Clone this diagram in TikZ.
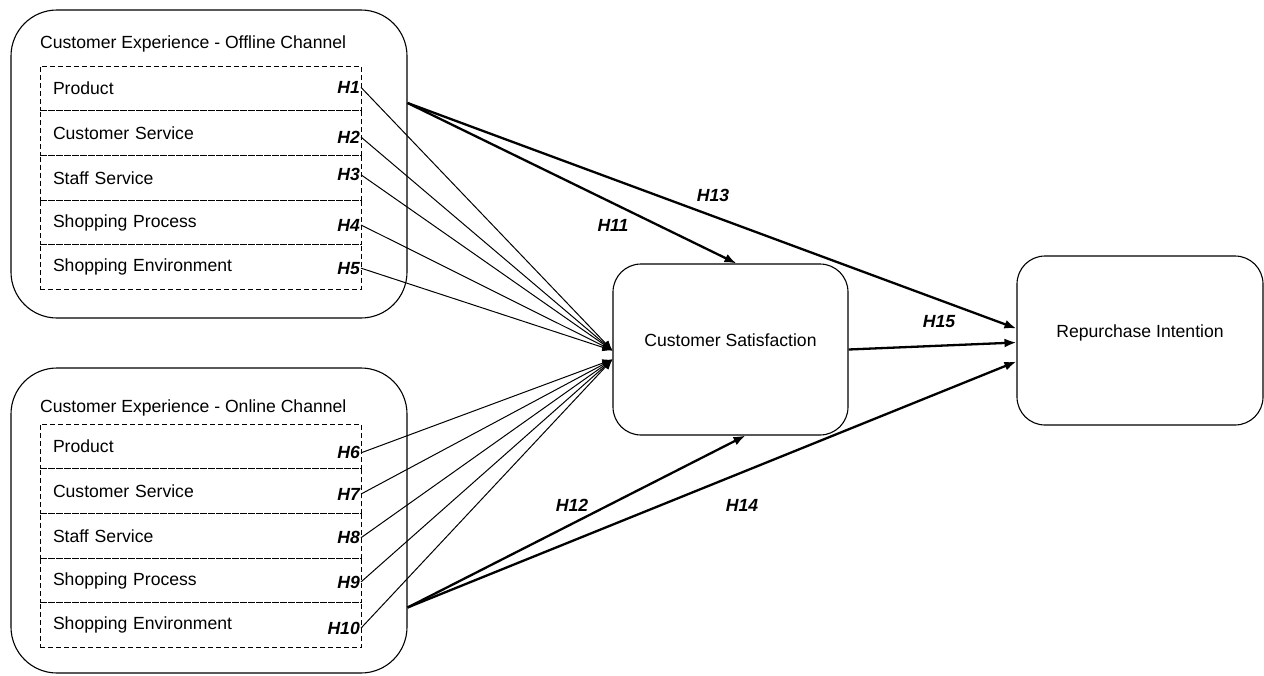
\documentclass[tikz,border=0pt]{standalone}
\usepackage{fontspec}
\setmainfont{Liberation Sans}
\usetikzlibrary{arrows.meta, positioning}

\begin{document}
\begin{tikzpicture}[
    x=1pt, y=-1pt,
    font=\fontsize{17.6}{20}\selectfont,
    channel/.style={rectangle, draw, rounded corners=46pt, minimum width=396pt, line width=1.1pt},
    rowbox/.style={rectangle, draw, dash pattern=on 5pt off 3pt, line width=1pt, minimum width=321pt, text width=295pt, inner xsep=13pt, inner ysep=0pt, minimum height=44.7pt, align=left, outer sep=0pt},
    hyp/.style={font=\fontsize{17.6}{20}\selectfont\bfseries\itshape, inner sep=1pt},
    bigbox/.style={rectangle, draw, rounded corners=28pt, align=center, text height=12pt, text depth=19pt, line width=1.1pt},
    link/.style={-{Latex[length=10pt, width=8pt]}, line width=1pt},
    arrow/.style={-{Latex[length=12pt, width=9pt]}, line width=2.3pt}
]
\useasboundingbox (0,0) rectangle (1264,675);

% offline channel
\node[channel, minimum height=308pt] (offbox) at (209,164) {};
\node[anchor=west, inner sep=0pt] (offtitle) at (40,44) {Customer Experience - Offline Channel};
\node[rowbox] (off1) at (200.5,88.35) {Product};
\node[rowbox, below=0pt of off1] (off2) {Customer Service};
\node[rowbox, below=0pt of off2] (off3) {Staff Service};
\node[rowbox, below=0pt of off3] (off4) {Shopping Process};
\node[rowbox, below=0pt of off4] (off5) {Shopping Environment};

\node[hyp, anchor=east] (h1) at ([yshift=1pt]off1.east) {H1};
\node[hyp, anchor=east] (h2) at ([yshift=-4pt]off2.east) {H2};
\node[hyp, anchor=east] (h3) at ([yshift=3pt]off3.east) {H3};
\node[hyp, anchor=east] (h4) at ([yshift=-2.5pt]off4.east) {H4};
\node[hyp, anchor=east] (h5) at ([yshift=-1pt]off5.east) {H5};

% online channel
\node[channel, minimum height=305pt] (onbox) at (209,520.5) {};
\node[anchor=west, inner sep=0pt] (ontitle) at (40,408) {Customer Experience - Online Channel};
\node[rowbox] (on1) at (200.5,446.35) {Product};
\node[rowbox, below=0pt of on1] (on2) {Customer Service};
\node[rowbox, below=0pt of on2] (on3) {Staff Service};
\node[rowbox, below=0pt of on3] (on4) {Shopping Process};
\node[rowbox, below=0pt of on4] (on5) {Shopping Environment};

\node[hyp, anchor=east] (h6) at ([yshift=-6.5pt]on1.east) {H6};
\node[hyp, anchor=east] (h7) at ([yshift=-3pt]on2.east) {H7};
\node[hyp, anchor=east] (h8) at ([yshift=-2pt]on3.east) {H8};
\node[hyp, anchor=east] (h9) at ([yshift=-1.5pt]on4.east) {H9};
\node[hyp, anchor=east] (h10) at ([yshift=-3pt]on5.east) {H10};

% outcomes
\node[bigbox, minimum width=235pt, minimum height=171pt] (cs) at (730.5,349.5) {Customer Satisfaction};
\node[bigbox, minimum width=246pt, minimum height=169pt] (ri) at (1140,340.5) {Repurchase Intention};

\coordinate (offin) at ([yshift=-1pt]cs.west);
\coordinate (onin) at ([yshift=-10pt]cs.west);

\draw[link] (h1.east) -- (offin);
\draw[link] (h2.east) -- (offin);
\draw[link] (h3.east) -- (offin);
\draw[link] (h4.east) -- (offin);
\draw[link] (h5.east) -- (offin);
\draw[link] (h6.east) -- (onin);
\draw[link] (h7.east) -- (onin);
\draw[link] (h8.east) -- (onin);
\draw[link] (h9.east) -- (onin);
\draw[link] (h10.east) -- (onin);

\draw[arrow] ([yshift=61pt]offbox.east) -- ([xshift=6pt]cs.north);
\draw[arrow] ([yshift=61pt]offbox.east) -- ([yshift=12pt]ri.west);
\draw[arrow] ([yshift=-87pt]onbox.east) -- ([xshift=15pt]cs.south);
\draw[arrow] ([yshift=-87pt]onbox.east) -- ([yshift=-21pt]ri.west);
\draw[arrow] (cs.east) -- ([yshift=-2pt]ri.west);

\node[hyp] (h11) at (613,225) {H11};
\node[hyp] (h13) at (713,195) {H13};
\node[hyp] (h15) at (939,322) {H15};
\node[hyp] (h12) at (572,505) {H12};
\node[hyp] (h14) at (742,505) {H14};
\end{tikzpicture}
\end{document}
